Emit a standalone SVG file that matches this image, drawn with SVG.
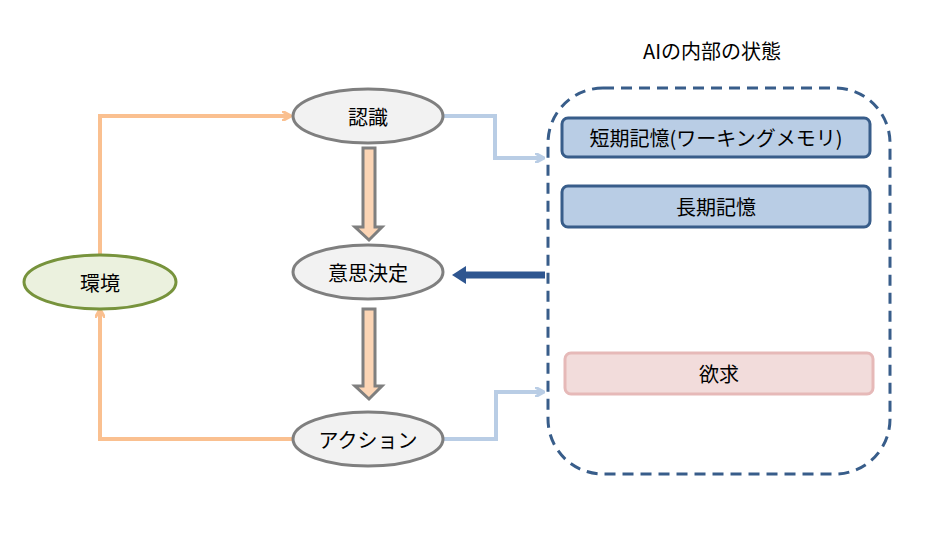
<svg xmlns="http://www.w3.org/2000/svg" width="926" height="538" viewBox="0 0 926 538">
<style>
text{font-family:"Noto Sans CJK JP","Liberation Sans",sans-serif;font-size:20px;text-anchor:middle;dominant-baseline:central;fill:#000}
.el{fill:#F2F2F2;stroke:#7F7F7F;stroke-width:3}
.bx{fill:#B9CDE5;stroke:#385D8A;stroke-width:3}
.bl{fill:none;stroke:#B9CDE5;stroke-width:4}
.or{fill:none;stroke:#FAC090;stroke-width:4}
.blk{fill:#FCD5B5;stroke:#7F7F7F;stroke-width:3}
</style>
<defs>
<marker id="ab" markerWidth="10" markerHeight="10" refX="8" refY="5" orient="auto" markerUnits="userSpaceOnUse"><path d="M0,0 L9,5 L0,10" fill="none" stroke="#B9CDE5" stroke-width="3"/></marker>
<marker id="ao" markerWidth="10" markerHeight="10" refX="8" refY="5" orient="auto" markerUnits="userSpaceOnUse"><path d="M0,0 L9,5 L0,10" fill="none" stroke="#FAC090" stroke-width="3"/></marker>
</defs>
<text x="712" y="50">AIの内部の状態</text>
<g id="connectors">
<path class="bl" d="M443,116 H495 V158 H543" marker-end="url(#ab)"/>
<path class="bl" d="M443,439 H496 V392 H543" marker-end="url(#ab)"/>
<path class="or" d="M100,255 V116 H290" marker-end="url(#ao)"/>
<path class="or" d="M292,439 H100 V310" marker-end="url(#ao)"/>
<path class="blk" d="M363,148 H375 V227 H382 L369,240 L355,227 H363 Z"/>
<path class="blk" d="M363,309 H375 V386 H382 L369,399 L355,386 H363 Z"/>
<path d="M545,275 H465" stroke="#2E5690" stroke-width="7" fill="none"/>
<path d="M466,266 L452,275 L466,284 Z" fill="#2E5690"/>
</g>
<g id="container"><rect x="548" y="88" width="342" height="386" rx="55" fill="none" stroke="#385D8A" stroke-width="3" stroke-dasharray="11,7"/></g>
<g id="n1"><ellipse class="el" cx="368" cy="116" rx="75" ry="27"/><text x="368" y="116">認識</text></g>
<g id="n2"><ellipse class="el" cx="368" cy="272" rx="75" ry="27"/><text x="368" y="272">意思決定</text></g>
<g id="n3"><ellipse class="el" cx="368" cy="439" rx="75" ry="27"/><text x="368" y="439">アクション</text></g>
<g id="env"><ellipse cx="100" cy="282" rx="76" ry="27" fill="#EBF1DE" stroke="#77933C" stroke-width="3"/><text x="100" y="282">環境</text></g>
<g id="b1"><rect class="bx" x="562" y="118" width="308" height="39" rx="6"/><text x="716" y="137">短期記憶(ワーキングメモリ)</text></g>
<g id="b2"><rect class="bx" x="562" y="186" width="308" height="41" rx="6"/><text x="716" y="206">長期記憶</text></g>
<g id="b3"><rect x="565" y="353" width="308" height="41" rx="6" fill="#F2DCDB" stroke="#E6B9B8" stroke-width="3"/><text x="719" y="373">欲求</text></g>
</svg>
